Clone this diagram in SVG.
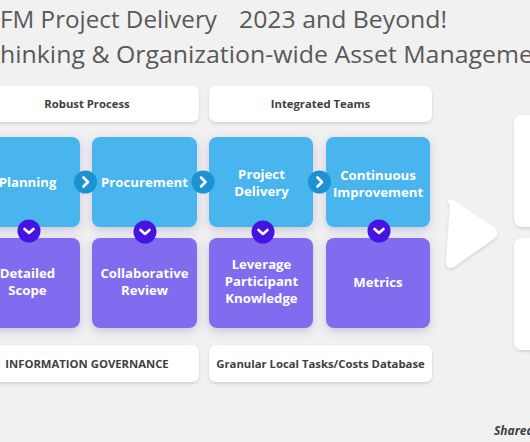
<svg xmlns="http://www.w3.org/2000/svg" width="530" height="442" viewBox="0 0 530 442">
<defs>
<filter id="sh" x="-30%" y="-30%" width="160%" height="160%">
<feDropShadow dx="0" dy="3" stdDeviation="5" flood-color="#6a4a9a" flood-opacity="0.28"/>
</filter>
<filter id="sh2" x="-20%" y="-40%" width="140%" height="180%">
<feDropShadow dx="0" dy="1.5" stdDeviation="1.5" flood-color="#000" flood-opacity="0.15"/>
</filter>
</defs>
<style>
.title{font-family:"Open Sans","Noto Sans",sans-serif;font-size:23px;fill:#595959}
.lab{fill:#ffffff;filter:url(#sh2)}
.labt{font-family:"Open Sans","Noto Sans",sans-serif;font-size:11.3px;font-weight:700;fill:#404040;text-anchor:middle}
.blue{fill:#48b5ef;filter:url(#sh)}
.purp{fill:#816cef;filter:url(#sh)}
.bt{font-family:"Open Sans","Noto Sans",sans-serif;font-size:13.2px;font-weight:700;fill:#ffffff;text-anchor:middle}
.ca{fill:#1b93d3}
.cd{fill:#4514e2}
.chev{fill:none;stroke:#ffffff;stroke-width:2.6;stroke-linecap:round;stroke-linejoin:round}
.wbox{fill:#ffffff;filter:url(#sh2)}
</style>
<rect width="530" height="442" fill="#f1f1f1"/>

<g id="title">
<text class="title" x="0" y="28" textLength="217" lengthAdjust="spacingAndGlyphs">FM Project Delivery</text>
<text class="title" x="239" y="28" textLength="208" lengthAdjust="spacingAndGlyphs">2023 and Beyond!</text>
<text class="title" x="0" y="63" textLength="533" lengthAdjust="spacingAndGlyphs">hinking &amp; Organization-wide Asset Manageme</text>
</g>

<g id="robust-process">
<rect class="lab" x="-25" y="86" width="224" height="36" rx="7"/>
<text class="labt" x="87" y="107.5">Robust Process</text>
</g>
<g id="integrated-teams">
<rect class="lab" x="209" y="86" width="223" height="36" rx="7"/>
<text class="labt" x="320.5" y="107.5">Integrated Teams</text>
</g>

<g id="planning">
<rect class="blue" x="-25" y="137" width="105" height="90" rx="8"/>
<text class="bt" x="27.5" y="186.5">Planning</text>
</g>
<g id="procurement">
<rect class="blue" x="92" y="137" width="105" height="90" rx="8"/>
<text class="bt" x="144.5" y="186.5">Procurement</text>
</g>
<g id="project-delivery">
<rect class="blue" x="209" y="137" width="104" height="90" rx="8"/>
<text class="bt" x="261.5" y="178.5">Project</text>
<text class="bt" x="261.5" y="195.5">Delivery</text>
</g>
<g id="continuous-improvement">
<rect class="blue" x="326" y="137" width="104" height="90" rx="8"/>
<text class="bt" x="378" y="180">Continuous</text>
<text class="bt" x="378" y="197">Improvement</text>
</g>

<g id="detailed-scope">
<rect class="purp" x="-25" y="238" width="105" height="90" rx="8"/>
<text class="bt" x="27.5" y="277.5">Detailed</text>
<text class="bt" x="27.5" y="295">Scope</text>
</g>
<g id="collaborative-review">
<rect class="purp" x="92" y="238" width="105" height="90" rx="8"/>
<text class="bt" x="144.5" y="278">Collaborative</text>
<text class="bt" x="144.5" y="295">Review</text>
</g>
<g id="leverage-participant-knowledge">
<rect class="purp" x="209" y="238" width="104" height="90" rx="8"/>
<text class="bt" x="261.5" y="269">Leverage</text>
<text class="bt" x="261.5" y="286">Participant</text>
<text class="bt" x="261.5" y="303">Knowledge</text>
</g>
<g id="metrics">
<rect class="purp" x="326" y="238" width="104" height="90" rx="8"/>
<text class="bt" x="378" y="286.5">Metrics</text>
</g>

<g id="information-governance">
<rect class="lab" x="-25" y="345" width="224" height="37" rx="7"/>
<text class="labt" x="87" y="368">INFORMATION GOVERNANCE</text>
</g>
<g id="granular-database">
<rect class="lab" x="209" y="345" width="223" height="37" rx="7"/>
<text class="labt" x="320.5" y="368">Granular Local Tasks/Costs Database</text>
</g>

<g id="connectors">
<circle class="ca" cx="85.5" cy="182" r="11.5"/>
<polyline class="chev" points="83.5,177.5 88,182 83.5,186.5"/>
<circle class="ca" cx="203" cy="182" r="11.5"/>
<polyline class="chev" points="201,177.5 205.5,182 201,186.5"/>
<circle class="ca" cx="319.5" cy="182" r="11.5"/>
<polyline class="chev" points="317.5,177.5 322,182 317.5,186.5"/>
<circle class="cd" cx="29" cy="231" r="11.5"/>
<polyline class="chev" points="24.5,229 29,233 33.5,229"/>
<circle class="cd" cx="145" cy="232" r="11.5"/>
<polyline class="chev" points="140.5,230 145,234 149.5,230"/>
<circle class="cd" cx="263" cy="232" r="11.5"/>
<polyline class="chev" points="258.5,230 263,234 267.5,230"/>
<circle class="cd" cx="379" cy="231" r="11.5"/>
<polyline class="chev" points="374.5,229 379,233 383.5,229"/>
</g>

<g id="arrow-right">
<path d="M452,205 Q448,200 452,201.5 L493,229 Q498,233 493,237 L453,265 Q448,268 448,262 Z" fill="#ffffff" stroke="#ffffff" stroke-width="4" stroke-linejoin="round" filter="url(#sh2)"/>
</g>
<g id="right-box-top">
<rect class="wbox" x="514" y="115" width="40" height="112" rx="8"/>
</g>
<g id="right-box-bottom">
<rect class="wbox" x="514" y="238" width="40" height="112" rx="8"/>
</g>

<g id="footer">
<text x="494" y="435" font-family="'Open Sans','Noto Sans',sans-serif" font-size="12" font-weight="700" font-style="italic" fill="#404040">Shared</text>
</g>
</svg>
